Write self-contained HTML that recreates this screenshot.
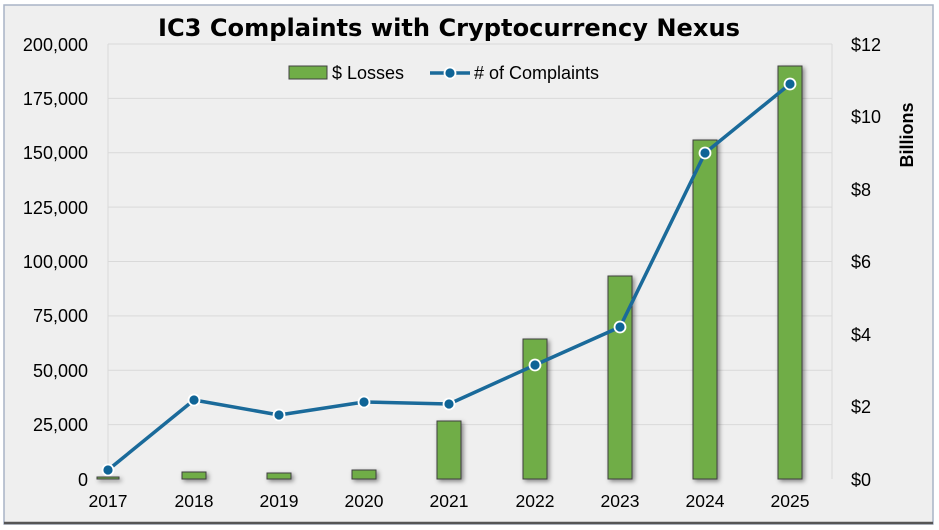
<!DOCTYPE html>
<html><head><style>
html,body{margin:0;padding:0;background:#fff;}
svg{display:block;font-family:"Liberation Sans",Arial,sans-serif;}
</style></head><body>
<svg width="939" height="530" xmlns="http://www.w3.org/2000/svg">
<defs>
<filter id="sh" x="-50%" y="-10%" width="200%" height="130%"><feDropShadow dx="2" dy="2" stdDeviation="2.5" flood-color="#000" flood-opacity="0.45"/></filter>
<filter id="sl" x="-10%" y="-10%" width="120%" height="130%"><feDropShadow dx="1" dy="2" stdDeviation="2" flood-color="#000" flood-opacity="0.35"/></filter>
</defs>
<rect x="4" y="5" width="929" height="519" fill="#efefef" stroke="#a9b4c6" stroke-width="1.5"/>
<line x1="4" y1="523" x2="933" y2="523" stroke="#555" stroke-width="2.5"/>
<text x="158" y="36" textLength="582" lengthAdjust="spacingAndGlyphs" font-size="24" font-weight="bold" fill="#000" font-family="DejaVu Sans, sans-serif">IC3 Complaints with Cryptocurrency Nexus</text>
<g stroke="#d9d9d9" stroke-width="1">
<line x1="108" y1="44" x2="832" y2="44"/><line x1="108" y1="98.4" x2="832" y2="98.4"/>
<line x1="108" y1="152.8" x2="832" y2="152.8"/><line x1="108" y1="207.1" x2="832" y2="207.1"/>
<line x1="108" y1="261.5" x2="832" y2="261.5"/><line x1="108" y1="315.9" x2="832" y2="315.9"/>
<line x1="108" y1="370.3" x2="832" y2="370.3"/><line x1="108" y1="424.6" x2="832" y2="424.6"/>
<line x1="108" y1="44" x2="108" y2="479"/><line x1="832" y1="44" x2="832" y2="479"/>
</g>
<line x1="108" y1="479" x2="832" y2="479" stroke="#bfbfbf" stroke-width="1.5" filter="url(#sl)"/>
<g font-size="18" fill="#000" text-anchor="end">
<text x="88" y="51">200,000</text><text x="88" y="105">175,000</text><text x="88" y="159">150,000</text>
<text x="88" y="214">125,000</text><text x="88" y="268">100,000</text><text x="88" y="322">75,000</text>
<text x="88" y="377">50,000</text><text x="88" y="431">25,000</text><text x="88" y="486">0</text>
</g>
<g font-size="18" fill="#000" text-anchor="start">
<text x="851" y="51">$12</text><text x="851" y="123">$10</text><text x="851" y="196">$8</text>
<text x="851" y="268">$6</text><text x="851" y="341">$4</text><text x="851" y="413">$2</text><text x="851" y="486">$0</text>
</g>
<text transform="translate(913,135) rotate(-90)" text-anchor="middle" font-size="18" font-weight="bold">Billions</text>
<g font-size="17.5" fill="#000" text-anchor="middle">
<text x="108" y="507">2017</text><text x="194" y="507">2018</text><text x="279" y="507">2019</text>
<text x="364" y="507">2020</text><text x="449" y="507">2021</text><text x="535" y="507">2022</text>
<text x="620" y="507">2023</text><text x="705" y="507">2024</text><text x="790" y="507">2025</text>
</g>
<g fill="#70ad47" stroke="#404040" stroke-width="1" filter="url(#sh)">
<rect x="97" y="477" width="22" height="2"/>
<rect x="182" y="472" width="24" height="7"/>
<rect x="267" y="473" width="24" height="6"/>
<rect x="352" y="470" width="24" height="9"/>
<rect x="437" y="421" width="24" height="58"/>
<rect x="523" y="339" width="24" height="140"/>
<rect x="608" y="276" width="24" height="203"/>
<rect x="693" y="140" width="24" height="339"/>
<rect x="778" y="66" width="24" height="413"/>
</g>
<polyline points="108,470 194,400 279,415 364,402 449,404 535,365 620,327 705,153 790,84" fill="none" stroke="#1a6a9a" stroke-width="3.5" stroke-linejoin="round"/>
<g fill="#0f6496" stroke="#fff" stroke-width="1.8">
<circle cx="108" cy="470" r="5.5"/><circle cx="194" cy="400" r="5.5"/><circle cx="279" cy="415" r="5.5"/>
<circle cx="364" cy="402" r="5.5"/><circle cx="449" cy="404" r="5.5"/><circle cx="535" cy="365" r="5.5"/>
<circle cx="620" cy="327" r="5.5"/><circle cx="705" cy="153" r="5.5"/><circle cx="790" cy="84" r="5.5"/>
</g>
<rect x="289" y="66" width="38" height="13" fill="#70ad47" stroke="#404040" stroke-width="1"/>
<text x="332" y="79" font-size="18">$ Losses</text>
<line x1="430" y1="73" x2="470" y2="73" stroke="#1a6a9a" stroke-width="3.5"/>
<circle cx="450" cy="73" r="5.5" fill="#0f6496" stroke="#fff" stroke-width="1.8"/>
<text x="474" y="79" font-size="18"># of Complaints</text>
</svg>
</body></html>
